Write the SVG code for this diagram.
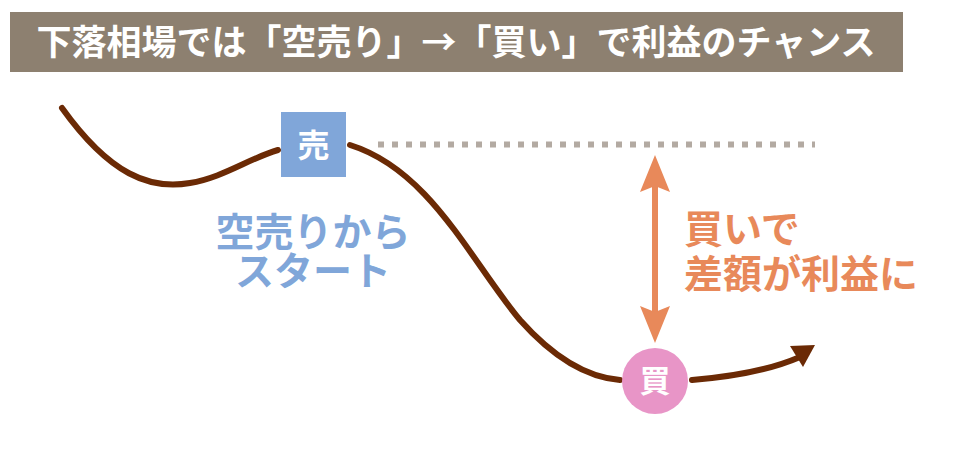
<svg xmlns="http://www.w3.org/2000/svg" width="980" height="450" viewBox="0 0 980 450">
<style>
.t{font-family:"Noto Sans CJK JP","Noto Sans CJK SC",sans-serif;font-weight:bold}
.curve{fill:none;stroke:#6b2a05;stroke-width:6;stroke-linecap:round}
</style>
<rect width="980" height="450" fill="#ffffff"/>
<g id="title">
<rect x="10" y="12" width="893" height="60" fill="#8d8070"/>
<text class="t" x="456" y="55" font-size="35" fill="#ffffff" text-anchor="middle">下落相場では「空売り」→「買い」で利益のチャンス</text>
</g>
<g id="connectors">
<path class="curve" d="M62,108 C110,175 150,190 190,183 C222,178 250,158 278,150"/>
<path class="curve" d="M350,145 C430,170 470,260 520,320 C560,365 595,378 620,380"/>
<path class="curve" d="M692,380 C730,377 770,370 800,357"/>
<path d="M790,346 L815,345 L803,367 Z" fill="#6b2a05"/>
<line x1="378" y1="144.5" x2="815" y2="144.5" stroke="#b3aaa2" stroke-width="6" stroke-dasharray="6 8"/>
<line x1="655" y1="180" x2="655" y2="320" stroke="#e8895a" stroke-width="6"/>
<path d="M655,155 L640,192 L655,186 L670,192 Z" fill="#e8895a"/>
<path d="M655,343 L640,306 L655,312 L670,306 Z" fill="#e8895a"/>
</g>
<g id="sell">
<rect x="281" y="112" width="65" height="65" fill="#80a6d9"/>
<text class="t" x="313.5" y="157" font-size="32" fill="#ffffff" text-anchor="middle">売</text>
</g>
<g id="buy">
<circle cx="655" cy="381" r="33" fill="#e895c7"/>
<text class="t" x="655" y="392" font-size="31" fill="#ffffff" text-anchor="middle">買</text>
</g>
<g id="label-start">
<text class="t" x="313" y="246" font-size="39" fill="#80a6d9" text-anchor="middle">空売りから</text>
<text class="t" x="313" y="285" font-size="39" fill="#80a6d9" text-anchor="middle">スタート</text>
</g>
<g id="label-profit">
<text class="t" x="684" y="243" font-size="39" fill="#e8895a">買いで</text>
<text class="t" x="684" y="288" font-size="39" fill="#e8895a">差額が利益に</text>
</g>
</svg>
